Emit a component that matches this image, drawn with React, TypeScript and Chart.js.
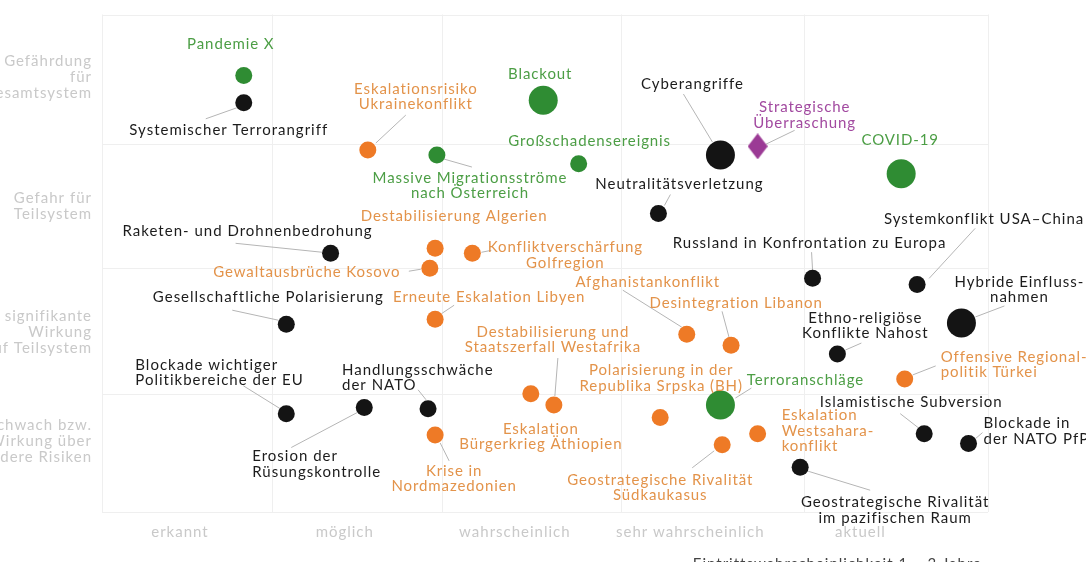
import React, { useEffect, useRef } from "react";
import { Chart, registerables } from "chart.js";

Chart.register(...registerables);

// ---- axes ----
const likelihoodLabels = ["erkannt", "möglich", "wahrscheinlich", "sehr wahrscheinlich", "aktuell"];
const likelihoodLabelPos = [0.44, 1.37, 2.33, 3.32, 4.28];
const likelihoodBounds = [0, 0.96, 1.92, 2.93, 3.96, 5.0];
const impactLabels = [
  "schwach bzw.\nWirkung über\nandere Risiken",
  "signifikante\nWirkung\nauf Teilsystem",
  "Gefahr für\nTeilsystem",
  "Gefährdung\nfür\nGesamtsystem",
];
const impactLabelPos = [0.57, 1.45, 2.46, 3.5];
const impactBounds = [0, 0.95, 1.96, 2.96, 4];
const xAxisTitle = "Eintrittswahrscheinlichkeit 1 – 3 Jahre";

// ---- risks ----
const riskNames = [
  "Pandemie X",
  "Systemischer Terrorangriff",
  "Eskalationsrisiko\nUkrainekonflikt",
  "Massive Migrationsströme\nnach Österreich",
  "Blackout",
  "Großschadensereignis",
  "Cyberangriffe",
  "Strategische\nÜberraschung",
  "COVID-19",
  "Neutralitätsverletzung",
  "Destabilisierung Algerien",
  "Konfliktverschärfung\nGolfregion",
  "Gewaltausbrüche Kosovo",
  "Raketen- und Drohnenbedrohung",
  "Erneute Eskalation Libyen",
  "Gesellschaftliche Polarisierung",
  "Afghanistankonflikt",
  "Desintegration Libanon",
  "Destabilisierung und\nStaatszerfall Westafrika",
  "Eskalation\nBürgerkrieg Äthiopien",
  "Handlungsschwäche\nder NATO",
  "Erosion der\nRüsungskontrolle",
  "Blockade wichtiger\nPolitikbereiche der EU",
  "Krise in\nNordmazedonien",
  "Polarisierung in der\nRepublika Srpska (BH)",
  "Terroranschläge",
  "Geostrategische Rivalität\nSüdkaukasus",
  "Eskalation\nWestsahara-\nkonflikt",
  "Geostrategische Rivalität\nim pazifischen Raum",
  "Islamistische Subversion",
  "Blockade in\nder NATO PfP",
  "Offensive Regional-\npolitik Türkei",
  "Ethno-religiöse\nKonflikte Nahost",
  "Hybride Einfluss-\nnahmen",
  "Systemkonflikt USA–China",
  "Russland in Konfrontation zu Europa",
];
const riskLikelihood = [
  0.80, 0.80, 1.50, 1.89, 2.49, 2.69, 3.49, 3.70, 4.51, 3.14,
  1.88, 2.09, 1.85, 1.29, 1.88, 1.04, 3.30, 3.55, 2.55, 2.42,
  1.84, 1.48, 1.04, 1.88, 3.15, 3.49, 3.50, 3.70, 3.94, 4.64,
  4.89, 4.53, 4.15, 4.85, 4.60, 4.01,
];
const riskImpact = [
  3.51, 3.29, 2.91, 2.87, 3.31, 2.80, 2.87, 2.94, 2.72, 2.40,
  2.12, 2.08, 1.96, 2.08, 1.55, 1.51, 1.43, 1.34, 0.86, 0.95,
  0.83, 0.84, 0.79, 0.62, 0.76, 0.86, 0.54, 0.63, 0.36, 0.63,
  0.55, 1.07, 1.27, 1.52, 1.83, 1.88,
];
// g = green, b = black, o = orange, p = purple
const riskGroup = [
  "g", "b", "o", "g", "g", "g", "b", "p", "g", "b",
  "o", "o", "o", "b", "o", "b", "o", "o", "o", "o",
  "b", "b", "b", "o", "o", "g", "o", "o", "b", "b",
  "b", "o", "b", "b", "b", "b",
];
// 1 = normal, 2 = large
const riskWeight = [
  1, 1, 1, 1, 2, 1, 2, 1, 2, 1,
  1, 1, 1, 1, 1, 1, 1, 1, 1, 1,
  1, 1, 1, 1, 1, 2, 1, 1, 1, 1,
  1, 1, 1, 2, 1, 1,
];

// ---- label layout (pixel offsets from the point) ----
const labelLayout: [number, number, string][] = [
  [-13, -31, "center"], [-15, 27, "center"], [48, -61, "center"], [33, 23, "center"],
  [-3, -26, "center"], [11, -23, "center"], [-28, -71, "center"], [47, -39, "center"],
  [-1, -34, "center"], [21, -29, "center"], [19, -32, "center"], [93, -6, "center"],
  [-123, 4, "center"], [-83, -22, "center"], [54, -22, "center"], [-18, -27, "center"],
  [-39, -52, "center"], [5, -42, "center"], [-1, -73, "center"], [10, 35, "center"],
  [-86, -39, "left"], [-112, 49, "left"], [-151, -49, "left"], [19, 36, "center"],
  [1, -47, "center"], [85, -25, "center"], [-62, 35, "center"], [24, -18, "left"],
  [95, 35, "center"], [-13, -31, "center"], [15, -20, "left"], [36, -22, "left"],
  [28, -36, "center"], [58, -41, "center"], [67, -65, "center"], [-3, -35, "center"],
];
const leaderLayout: (number[] | null)[] = [
  null, [-38, 16, -7, 5], [8, -7, 38, -35], [7, 4, 35, 12],
  null, null, [-37, -61, -8, -13], [8, -2, 37, -16],
  null, [6, -8, 12, -19], null, [9, -1, 19, -3],
  [-21, 3, -9, 1], [-95, -10, -8, -1], [19, -14, 7, -6], [-54, -14, -8, -4],
  [-64, -44, -5, -7], [-9, -34, -2, -8], [4, -47, 1, -9], null,
  [-10, -19, -2, -9], [-73, 40, -7, 5], [-43, -28, -6, -5], [5, 8, 14, 26],
  null, [15, -7, 31, -17], [-8, 6, -30, 23], null,
  [8, 4, 70, 23], [-24, -20, -6, -6], [7, -5, 14, -11], [8, -4, 31, -13],
  [8, -4, 24, -11], [14, -6, 43, -17], [12, -6, 58, -56], [-1, -26, 0, -8],
];

const fillColor: Record<string, string> = { g: "#2f8c33", b: "#141414", o: "#ee7a26", p: "#9b3a95" };
const textColor: Record<string, string> = { g: "#4c9e45", b: "#1c1c1c", o: "#e3934a", p: "#a24aa0" };

function makeDiamond(): HTMLCanvasElement {
  const c = document.createElement("canvas");
  c.width = 20;
  c.height = 26;
  const g = c.getContext("2d")!;
  g.fillStyle = fillColor.p;
  g.beginPath();
  g.moveTo(10, 0);
  g.lineTo(20, 13);
  g.lineTo(10, 26);
  g.lineTo(0, 13);
  g.closePath();
  g.fill();
  return c;
}

export default function App() {
  const ref = useRef<HTMLCanvasElement | null>(null);

  useEffect(() => {
    if (!ref.current) return;
    const diamond = makeDiamond();
    const FONT = "Lato, 'Open Sans', sans-serif";

    const overlay = {
      id: "riskOverlay",
      beforeDatasetsDraw(chart: any) {
        const { ctx, chartArea, scales } = chart;
        const xs = scales.x;
        const ys = scales.y;
        ctx.save();
        // grid
        ctx.strokeStyle = "#efefef";
        ctx.lineWidth = 1;
        likelihoodBounds.forEach((v) => {
          const px = Math.round(xs.getPixelForValue(v)) + 0.5;
          ctx.beginPath();
          ctx.moveTo(px, chartArea.top);
          ctx.lineTo(px, chartArea.bottom);
          ctx.stroke();
        });
        impactBounds.forEach((v) => {
          const py = Math.round(ys.getPixelForValue(v)) + 0.5;
          ctx.beginPath();
          ctx.moveTo(chartArea.left, py);
          ctx.lineTo(chartArea.right, py);
          ctx.stroke();
        });
        // axis labels
        ctx.letterSpacing = "1px";
        ctx.fillStyle = "#c9c9c9";
        ctx.font = "15px " + FONT;
        ctx.textBaseline = "middle";
        ctx.textAlign = "center";
        likelihoodLabels.forEach((t, i) => {
          ctx.fillText(t, xs.getPixelForValue(likelihoodLabelPos[i]), chartArea.bottom + 20);
        });
        ctx.textAlign = "right";
        impactLabels.forEach((t, j) => {
          const lines = t.split("\n");
          const cy = ys.getPixelForValue(impactLabelPos[j]);
          lines.forEach((ln, k) => {
            ctx.fillText(ln, chartArea.left - 10, cy + (k - (lines.length - 1) / 2) * 16);
          });
        });
        ctx.fillStyle = "#444";
        ctx.font = "15px " + FONT;
        ctx.textAlign = "center";
        ctx.fillText(xAxisTitle, xs.getPixelForValue(4.15), chart.height + 2);
        // leader lines
        const meta = chart.getDatasetMeta(0);
        ctx.strokeStyle = "#b5b5b5";
        ctx.lineWidth = 1;
        leaderLayout.forEach((l, i) => {
          if (!l) return;
          const p = meta.data[i];
          ctx.beginPath();
          ctx.moveTo(p.x + l[0], p.y + l[1]);
          ctx.lineTo(p.x + l[2], p.y + l[3]);
          ctx.stroke();
        });
        ctx.restore();
      },
      afterDatasetsDraw(chart: any) {
        const { ctx } = chart;
        const meta = chart.getDatasetMeta(0);
        ctx.save();
        ctx.font = "15px " + FONT;
        ctx.textBaseline = "middle";
        riskNames.forEach((name, i) => {
          const p = meta.data[i];
          const [dx, dy, align] = labelLayout[i];
          ctx.letterSpacing = riskGroup[i] === "b" ? "1px" : "0.9px";
          ctx.fillStyle = textColor[riskGroup[i]];
          ctx.textAlign = align as CanvasTextAlign;
          name.split("\n").forEach((ln, k) => {
            ctx.fillText(ln, p.x + dx, p.y + dy + k * 15.5);
          });
        });
        ctx.restore();
      },
    };

    const chart = new Chart(ref.current, {
      type: "scatter",
      data: {
        datasets: [
          {
            data: riskNames.map((_, i) => ({ x: riskLikelihood[i], y: riskImpact[i] })),
            pointRadius: riskWeight.map((w) => (w === 2 ? 14.5 : 8.5)),
            pointBackgroundColor: riskGroup.map((g) => fillColor[g]),
            pointBorderWidth: 0,
            pointBorderColor: "rgba(0,0,0,0)",
            pointStyle: riskGroup.map((g) => (g === "p" ? diamond : "circle")) as any,
          },
        ],
      },
      options: {
        responsive: false,
        animation: false,
        events: [],
        layout: { padding: { left: 102, right: 98, top: 13, bottom: 50 } },
        scales: {
          x: { type: "linear", min: 0, max: 5, display: false },
          y: { type: "linear", min: 0, max: 4, display: false },
        },
        plugins: { legend: { display: false }, tooltip: { enabled: false } },
      },
      plugins: [overlay],
    });
    return () => chart.destroy();
  }, []);

  return (
    <div style={{ position: "absolute", left: 0, top: 0, width: 1086, height: 562, background: "#fff" }}>
      <canvas ref={ref} width={1086} height={562} style={{ width: 1086, height: 562, display: "block" }} />
    </div>
  );
}
